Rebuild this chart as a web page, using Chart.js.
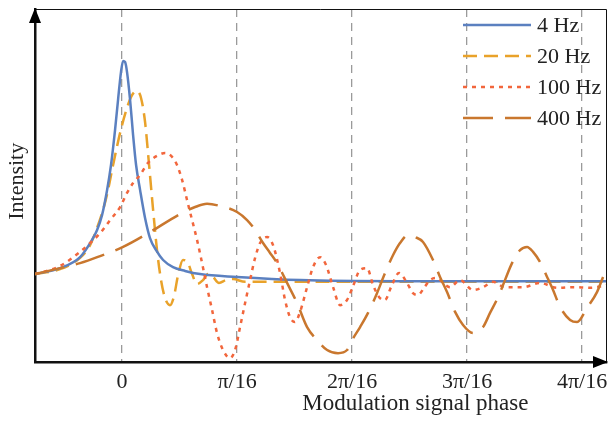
<!DOCTYPE html>
<html>
<head>
<meta charset="utf-8">
<script src="https://cdn.jsdelivr.net/npm/chart.js@4"></script>
<style>
  html, body { margin: 0; padding: 0; background: #fff; }
  #wrap { width: 609px; height: 421px; }
</style>
</head>
<body>
<div id="wrap"><canvas id="chart" width="609" height="421"></canvas></div>
<script>
// Phase is in units of pi/16, intensity in % of the axis height.
const tickValues = [0, 1, 2, 3, 4];
const tickLabels = ['0', 'π/16', '2π/16', '3π/16', '4π/16'];
const seriesLabels = ['4 Hz', '20 Hz', '100 Hz', '400 Hz'];
const xTitle = 'Modulation signal phase';
const yTitle = 'Intensity';

const phase4Hz = [-0.757, -0.539, -0.365, -0.261, -0.217, -0.174, -0.130, -0.096, -0.061, -0.035,
  -0.009, 0.009, 0.026, 0.043, 0.070, 0.096, 0.122, 0.157, 0.200, 0.243,
  0.296, 0.357, 0.443, 0.548, 0.678, 1.0, 1.548, 2.417, 4.217];
const int4Hz = [24.9, 26.6, 29.7, 34.6, 37.4, 41.6, 48.7, 55.8, 65.7, 74.2,
  82.2, 85.3, 85.0, 82.2, 74.2, 64.3, 55.8, 48.7, 40.8, 35.1,
  31.7, 28.9, 26.9, 25.8, 24.9, 24.1, 23.2, 22.9, 22.9];

const phase20Hz = [-0.757, -0.539, -0.365, -0.278, -0.217, -0.165, -0.122, -0.078, -0.017, 0.043,
  0.087, 0.130, 0.165, 0.200, 0.235, 0.270, 0.304, 0.339, 0.374, 0.417,
  0.452, 0.487, 0.530, 0.574, 0.609, 0.652, 0.704, 0.748, 0.791, 0.843,
  0.904, 0.965, 1.070, 4.217];
const int20Hz = [24.9, 26.3, 29.5, 33.1, 38.0, 43.1, 48.7, 55.8, 64.9, 72.0,
  75.6, 76.8, 74.8, 68.0, 55.8, 43.1, 31.7, 23.2, 18.1, 16.1,
  18.7, 24.6, 28.9, 28.0, 24.9, 22.1, 23.2, 24.9, 24.1, 22.4,
  23.2, 23.5, 22.7, 22.7];

const phase100Hz = [-0.757, -0.539, -0.365, -0.278, -0.191, -0.104, -0.017, 0.043, 0.096, 0.157,
  0.226, 0.304, 0.374, 0.435, 0.478, 0.522, 0.565, 0.609, 0.652, 0.696,
  0.739, 0.783, 0.826, 0.878, 0.939, 0.983, 1.026, 1.070, 1.113, 1.157,
  1.200, 1.261, 1.313, 1.374, 1.417, 1.461, 1.504, 1.548, 1.609, 1.661,
  1.722, 1.774, 1.835, 1.896, 1.957, 2.009, 2.070, 2.130, 2.183, 2.243,
  2.287, 2.339, 2.409, 2.478, 2.530, 2.574, 2.626, 2.678, 2.739, 2.791,
  2.852, 2.939, 3.052, 3.139, 3.226, 3.330, 3.487, 3.635, 3.783, 3.922,
  4.070, 4.217];
const int100Hz = [24.9, 27.2, 31.2, 33.7, 36.5, 40.2, 43.9, 47.9, 50.7, 53.0,
  56.4, 58.4, 59.2, 58.1, 55.8, 51.6, 45.9, 40.2, 34.6, 28.0,
  21.2, 14.7, 8.2, 3.4, 1.1, 3.4, 9.9, 16.7, 23.2, 29.5,
  33.7, 35.4, 33.1, 25.2, 17.6, 12.7, 11.3, 14.2, 21.2, 26.9,
  29.7, 27.5, 21.2, 16.1, 17.6, 21.5, 26.1, 26.6, 21.8, 18.1,
  17.6, 21.2, 25.2, 22.4, 19.5, 19.0, 21.0, 23.2, 23.8, 22.4,
  21.2, 23.2, 20.4, 21.2, 22.7, 21.2, 21.2, 22.4, 21.0, 21.2,
  21.0, 21.8];

const phase400Hz = [-0.757, -0.539, -0.365, -0.191, 0.009, 0.243, 0.504, 0.635, 0.739, 0.852,
  1.0, 1.087, 1.157, 1.226, 1.287, 1.348, 1.435, 1.522, 1.609, 1.696,
  1.783, 1.878, 1.957, 2.0, 2.070, 2.139, 2.217, 2.287, 2.357, 2.417,
  2.487, 2.548, 2.617, 2.704, 2.765, 2.826, 2.896, 2.965, 3.052, 3.139,
  3.200, 3.270, 3.330, 3.391, 3.461, 3.522, 3.574, 3.635, 3.696, 3.748,
  3.809, 3.896, 3.957, 4.043, 4.130, 4.183, 4.217];
const int400Hz = [24.9, 26.6, 28.0, 30.0, 32.6, 36.8, 41.9, 43.9, 44.8, 44.2,
  42.5, 40.2, 37.4, 33.7, 30.9, 28.0, 22.4, 16.7, 9.9, 6.2,
  3.4, 2.5, 3.4, 6.2, 9.9, 13.9, 19.5, 25.2, 30.3, 33.7,
  36.0, 35.4, 34.0, 28.9, 24.1, 19.8, 14.2, 10.5, 8.2, 9.9,
  13.9, 18.4, 23.2, 28.0, 31.7, 32.6, 31.2, 28.3, 24.1, 20.4,
  15.6, 11.9, 11.3, 15.3, 19.8, 24.1, 26.6];

const FONT = 'Liberation Serif, Times New Roman, serif';
const TEXT = '#222';

const toPoints = (xs, ys) => xs.map((x, i) => ({ x, y: ys[i] }));

// Frame, axis arrows, axis titles and the legend in the top right corner.
const decorations = {
  id: 'decorations',
  afterDraw(chart) {
    const { ctx, chartArea: a } = chart;
    ctx.save();
    ctx.strokeStyle = '#111';
    ctx.lineWidth = 1;
    ctx.beginPath();
    ctx.moveTo(a.left, a.top + 0.5);
    ctx.lineTo(a.right - 0.5, a.top + 0.5);
    ctx.lineTo(a.right - 0.5, a.bottom);
    ctx.stroke();

    ctx.fillStyle = '#000';
    ctx.beginPath();
    ctx.moveTo(a.left, a.top - 1);
    ctx.lineTo(a.left - 6, a.top + 14);
    ctx.lineTo(a.left + 6, a.top + 14);
    ctx.closePath();
    ctx.fill();
    ctx.beginPath();
    ctx.moveTo(a.right + 1, a.bottom);
    ctx.lineTo(a.right - 14, a.bottom - 6);
    ctx.lineTo(a.right - 14, a.bottom + 6);
    ctx.closePath();
    ctx.fill();

    // axis titles (the x title sits right of centre in the original)
    ctx.fillStyle = TEXT;
    ctx.textAlign = 'center';
    ctx.textBaseline = 'middle';
    ctx.font = '23px ' + FONT;
    ctx.fillText(xTitle, a.left + 0.665 * a.width, a.bottom + 42);
    ctx.save();
    ctx.translate(a.left - 18, a.top + 0.488 * a.height);
    ctx.rotate(-Math.PI / 2);
    ctx.font = '22px ' + FONT;
    ctx.fillText(yTitle, 0, 0);
    ctx.restore();

    // legend
    ctx.textAlign = 'left';
    ctx.font = '22px ' + FONT;
    chart.data.datasets.forEach((ds, i) => {
      const y = a.top + 16 + i * 31;
      ctx.strokeStyle = ds.borderColor;
      ctx.lineWidth = 2.5;
      ctx.setLineDash(ds.borderDash || []);
      ctx.beginPath();
      ctx.moveTo(a.right - 144, y);
      ctx.lineTo(a.right - 76, y);
      ctx.stroke();
      ctx.setLineDash([]);
      ctx.fillStyle = TEXT;
      ctx.fillText(ds.label, a.right - 70, y + 1);
    });
    ctx.restore();
  }
};

new Chart(document.getElementById('chart').getContext('2d'), {
  type: 'line',
  data: {
    datasets: [
      { label: seriesLabels[0], data: toPoints(phase4Hz, int4Hz), borderColor: '#5b80c0', borderDash: [], order: 2 },
      { label: seriesLabels[1], data: toPoints(phase20Hz, int20Hz), borderColor: '#e9a22a', borderDash: [14, 7], order: 3 },
      { label: seriesLabels[2], data: toPoints(phase100Hz, int100Hz), borderColor: '#f2663c', borderDash: [4, 5], order: 1 },
      { label: seriesLabels[3], data: toPoints(phase400Hz, int400Hz), borderColor: '#c9772e', borderDash: [30, 12], order: 0 },
    ]
  },
  options: {
    responsive: false,
    animation: false,
    devicePixelRatio: 1,
    layout: { padding: { top: 9, right: 2, left: 0, bottom: 0 } },
    elements: {
      point: { radius: 0 },
      line: { borderWidth: 2.5, cubicInterpolationMode: 'monotone', fill: false }
    },
    plugins: { legend: { display: false }, tooltip: { enabled: false } },
    scales: {
      x: {
        type: 'linear',
        min: -0.757,
        max: 4.217,
        afterBuildTicks: s => { s.ticks = tickValues.map(v => ({ value: v })); },
        afterFit: s => { s.height = 59; s.paddingLeft = 0; s.paddingRight = 0; },
        ticks: {
          callback: (v) => tickLabels[tickValues.indexOf(v)],
          padding: 7,
          maxRotation: 0,
          autoSkip: false,
          color: TEXT,
          font: { family: FONT, size: 22 }
        },
        grid: { color: '#9a9a9a', lineWidth: 1.3, drawTicks: false },
        border: { color: '#111', width: 2.5, dash: [8, 6] }
      },
      y: {
        min: 0,
        max: 100,
        afterFit: s => { s.width = 35; },
        ticks: { display: false },
        grid: { display: false, drawTicks: false },
        border: { color: '#111', width: 2.5 }
      }
    }
  },
  plugins: [decorations]
});
</script>
</body>
</html>
